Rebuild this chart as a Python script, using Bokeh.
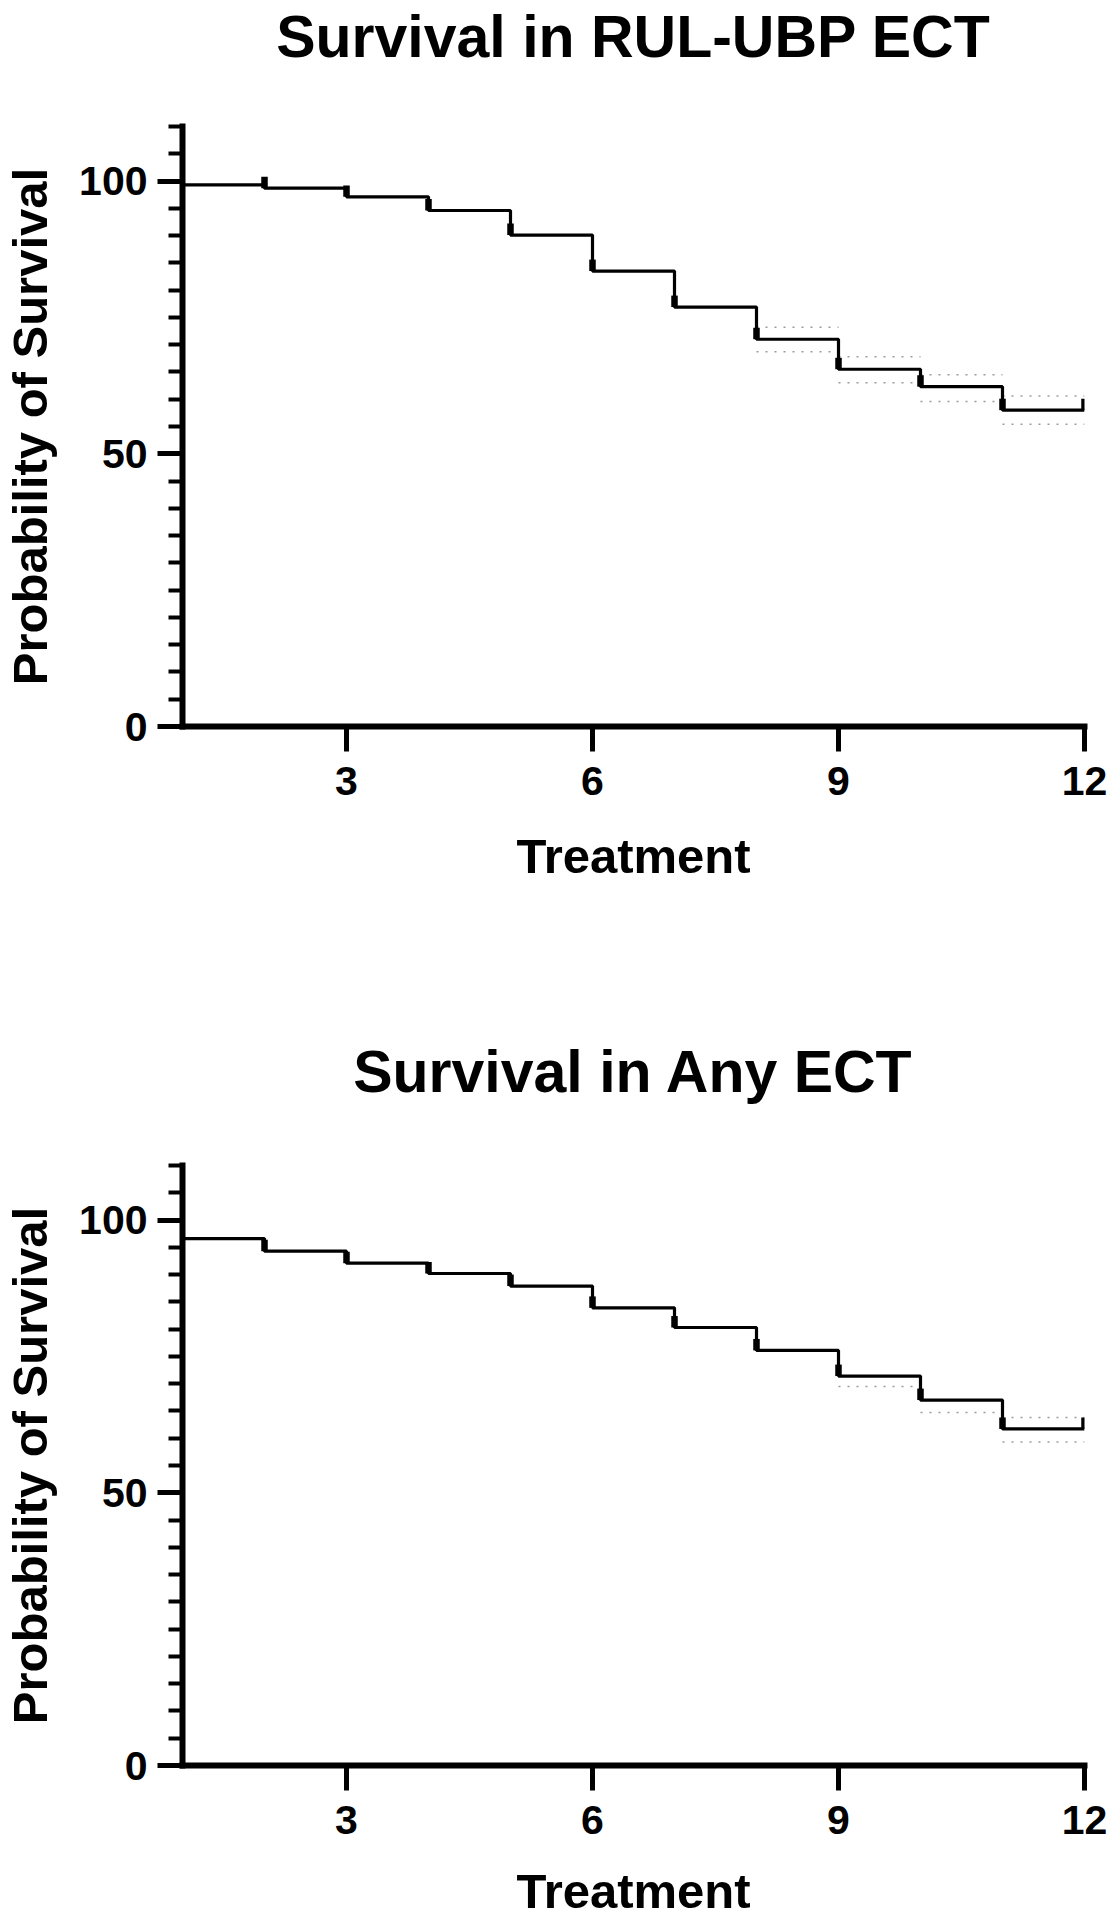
from bokeh.plotting import figure
from bokeh.layouts import column
from bokeh.models import Range1d, FixedTicker, Title
from bokeh.embed import file_html
from bokeh.resources import INLINE

# ---------------- data ----------------
treatments = [1, 2, 3, 4, 5, 6, 7, 8, 9, 10, 11, 12]

x_ticks = [3, 6, 9, 12]
y_ticks = [0, 50, 100]
y_minor_ticks = [5, 10, 15, 20, 25, 30, 35, 40, 45, 55, 60, 65, 70, 75, 80, 85, 90, 95, 105, 110]

x_label = "Treatment"
y_label = "Probability of Survival"

rul_title = "Survival in RUL-UBP ECT"
# survival (%) on each interval [t, t+1), t = 1..11
rul_survival = [99.3, 98.7, 97.1, 94.6, 90.1, 83.5, 76.9, 71.0, 65.5, 62.3, 58.0]
rul_upper_start = [8, 9, 10, 11]
rul_upper = [73.2, 67.8, 64.5, 60.6]
rul_lower_start = [8, 9, 10, 11]
rul_lower = [68.7, 63.0, 59.6, 55.4]

any_title = "Survival in Any ECT"
any_survival = [96.6, 94.3, 92.1, 90.2, 87.9, 83.9, 80.3, 76.1, 71.4, 67.0, 61.7]
any_upper_start = [11]
any_upper = [63.8]
any_lower_start = [9, 10, 11]
any_lower = [69.5, 64.7, 59.3]

FONT = "Liberation Sans"


def make_chart(title, surv, up_x, up, lo_x, lo, spacer, t_standoff,
               b_top, b_bottom, xlab_standoff):
    p = figure(frame_width=902, frame_height=600,
               x_range=Range1d(1, 12), y_range=Range1d(0, 110),
               output_backend="svg", toolbar_location=None,
               min_border_left=182, min_border_right=24,
               min_border_top=b_top, min_border_bottom=b_bottom)
    p.outline_line_color = None
    p.xgrid.visible = False
    p.ygrid.visible = False
    p.background_fill_color = "white"
    p.border_fill_color = "white"

    # spacing between title and plot area
    p.add_layout(Title(text=" ", text_font_size="2px", standoff=spacer), "above")
    p.add_layout(Title(text=title, align="center", standoff=t_standoff,
                       text_font=FONT, text_font_style="bold",
                       text_font_size="59px", text_color="black"), "above")

    # confidence-like dotted lines
    p.segment(x0=up_x, x1=[x + 1 for x in up_x], y0=up, y1=up,
              line_color="#9a9a9a", line_width=1.5, line_dash="2 7")
    p.segment(x0=lo_x, x1=[x + 1 for x in lo_x], y0=lo, y1=lo,
              line_color="#9a9a9a", line_width=1.5, line_dash="2 7")

    # Kaplan-Meier step curve
    step_y = surv + [surv[-1]]
    p.step(treatments, step_y, mode="after", line_color="black", line_width=3.2)

    # censor tick marks
    cx = treatments[1:]
    cy = step_y[1:]
    p.segment(x0=cx, x1=cx, y0=cy, y1=[v + 2.1 for v in cy],
              line_color="black", line_width=6.5)

    xa = p.xaxis[0]
    xa.ticker = FixedTicker(ticks=x_ticks)
    xa.axis_label = x_label
    xa.axis_line_width = 6
    xa.axis_line_cap = "square"
    xa.major_tick_line_width = 5
    xa.major_tick_out = 25
    xa.major_tick_in = 0
    xa.minor_tick_out = 0
    xa.minor_tick_in = 0
    xa.major_label_standoff = 15
    xa.major_label_text_font = FONT
    xa.major_label_text_font_style = "bold"
    xa.major_label_text_font_size = "41px"
    xa.major_label_text_color = "black"
    xa.axis_label_text_font = FONT
    xa.axis_label_text_font_style = "bold"
    xa.axis_label_text_font_size = "49px"
    xa.axis_label_text_color = "black"
    xa.axis_label_standoff = xlab_standoff

    ya = p.yaxis[0]
    ya.ticker = FixedTicker(ticks=y_ticks, minor_ticks=y_minor_ticks)
    ya.axis_label = y_label
    ya.axis_line_width = 6
    ya.axis_line_cap = "square"
    ya.major_tick_line_width = 5
    ya.major_tick_out = 25
    ya.major_tick_in = 0
    ya.minor_tick_line_width = 4
    ya.minor_tick_out = 14
    ya.minor_tick_in = 0
    ya.major_label_standoff = 10
    ya.major_label_text_font = FONT
    ya.major_label_text_font_style = "bold"
    ya.major_label_text_font_size = "41px"
    ya.major_label_text_color = "black"
    ya.axis_label_text_font = FONT
    ya.axis_label_text_font_style = "bold"
    ya.axis_label_text_font_size = "49px"
    ya.axis_label_text_color = "black"
    ya.axis_label_standoff = 19
    return p


p1 = make_chart(rul_title, rul_survival, rul_upper_start, rul_upper,
                rul_lower_start, rul_lower, 53, 0, 126, 170, 31)
p2 = make_chart(any_title, any_survival, any_upper_start, any_upper,
                any_lower_start, any_lower, 66, -18, 269, 150, 27)

layout = column(p1, p2, spacing=0)
open("out.html", "w").write(file_html(layout, INLINE, title="Survival"))
